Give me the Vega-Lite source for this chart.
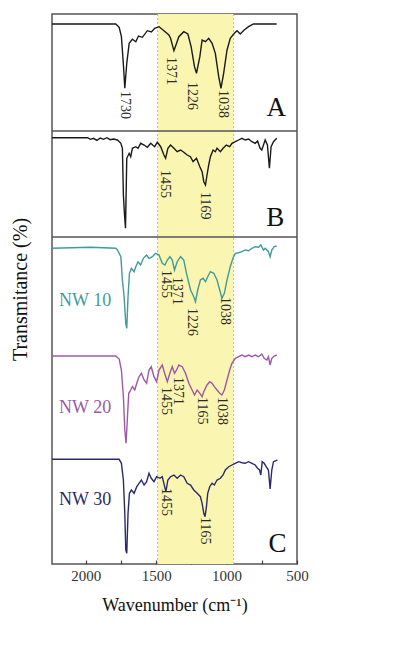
{
  "$schema": "https://vega.github.io/schema/vega-lite/v6.json",
  "width": 245,
  "height": 550,
  "autosize": "none",
  "padding": {"left": 52, "top": 14, "right": 103, "bottom": 91},
  "background": "white",
  "config": {
    "view": {"stroke": "#555555", "strokeWidth": 1.5},
    "font": "Liberation Serif",
    "text": {"font": "Liberation Serif"}
  },
  "datasets": {
    "spectra": [
      {"s": "A", "wn": 2240, "t": 540}, {"s": "A", "wn": 1787, "t": 540}, {"s": "A", "wn": 1763, "t": 536.7}, {"s": "A", "wn": 1747, "t": 527.3}, {"s": "A", "wn": 1732, "t": 497.3}, {"s": "A", "wn": 1723, "t": 475.7}, {"s": "A", "wn": 1709, "t": 500.7}, {"s": "A", "wn": 1692, "t": 520.7}, {"s": "A", "wn": 1669, "t": 524.7}, {"s": "A", "wn": 1645, "t": 522.3}, {"s": "A", "wn": 1626, "t": 528}, {"s": "A", "wn": 1598, "t": 526.7}, {"s": "A", "wn": 1563, "t": 533.3}, {"s": "A", "wn": 1534, "t": 532}, {"s": "A", "wn": 1511, "t": 535.7}, {"s": "A", "wn": 1480, "t": 537.3}, {"s": "A", "wn": 1445, "t": 533.3}, {"s": "A", "wn": 1410, "t": 529}, {"s": "A", "wn": 1398, "t": 525.7}, {"s": "A", "wn": 1374, "t": 513.3}, {"s": "A", "wn": 1339, "t": 527.3}, {"s": "A", "wn": 1304, "t": 532.3}, {"s": "A", "wn": 1275, "t": 530}, {"s": "A", "wn": 1252, "t": 517.3}, {"s": "A", "wn": 1228, "t": 497.3}, {"s": "A", "wn": 1214, "t": 490.7}, {"s": "A", "wn": 1190, "t": 507.3}, {"s": "A", "wn": 1174, "t": 524}, {"s": "A", "wn": 1150, "t": 522.3}, {"s": "A", "wn": 1127, "t": 525.7}, {"s": "A", "wn": 1103, "t": 520.7}, {"s": "A", "wn": 1080, "t": 510.7}, {"s": "A", "wn": 1056, "t": 487.3}, {"s": "A", "wn": 1040, "t": 475.7}, {"s": "A", "wn": 1021, "t": 490.7}, {"s": "A", "wn": 997, "t": 514}, {"s": "A", "wn": 974, "t": 525.7}, {"s": "A", "wn": 945, "t": 530.7}, {"s": "A", "wn": 926, "t": 533.3}, {"s": "A", "wn": 903, "t": 530}, {"s": "A", "wn": 875, "t": 534}, {"s": "A", "wn": 844, "t": 537.3}, {"s": "A", "wn": 809, "t": 540}, {"s": "A", "wn": 644, "t": 540},

      {"s": "B", "wn": 2240, "t": 426.3}, {"s": "B", "wn": 1987, "t": 426.3}, {"s": "B", "wn": 1968, "t": 424.7}, {"s": "B", "wn": 1945, "t": 425.7}, {"s": "B", "wn": 1921, "t": 423.7}, {"s": "B", "wn": 1897, "t": 426}, {"s": "B", "wn": 1874, "t": 424.7}, {"s": "B", "wn": 1850, "t": 426.3}, {"s": "B", "wn": 1827, "t": 424.3}, {"s": "B", "wn": 1803, "t": 425}, {"s": "B", "wn": 1775, "t": 424}, {"s": "B", "wn": 1751, "t": 420.7}, {"s": "B", "wn": 1740, "t": 415.7}, {"s": "B", "wn": 1733, "t": 369}, {"s": "B", "wn": 1725, "t": 349}, {"s": "B", "wn": 1718, "t": 335.7}, {"s": "B", "wn": 1709, "t": 405.7}, {"s": "B", "wn": 1692, "t": 410.7}, {"s": "B", "wn": 1681, "t": 407.3}, {"s": "B", "wn": 1669, "t": 415.7}, {"s": "B", "wn": 1645, "t": 417.3}, {"s": "B", "wn": 1629, "t": 415.7}, {"s": "B", "wn": 1610, "t": 420.7}, {"s": "B", "wn": 1586, "t": 419}, {"s": "B", "wn": 1563, "t": 416.7}, {"s": "B", "wn": 1539, "t": 420.7}, {"s": "B", "wn": 1511, "t": 417.3}, {"s": "B", "wn": 1492, "t": 421.7}, {"s": "B", "wn": 1468, "t": 417.3}, {"s": "B", "wn": 1445, "t": 409}, {"s": "B", "wn": 1433, "t": 405.7}, {"s": "B", "wn": 1417, "t": 415.7}, {"s": "B", "wn": 1398, "t": 419}, {"s": "B", "wn": 1374, "t": 415.7}, {"s": "B", "wn": 1351, "t": 412.3}, {"s": "B", "wn": 1327, "t": 414}, {"s": "B", "wn": 1304, "t": 411.7}, {"s": "B", "wn": 1280, "t": 409}, {"s": "B", "wn": 1257, "t": 407.3}, {"s": "B", "wn": 1238, "t": 402.3}, {"s": "B", "wn": 1214, "t": 405.7}, {"s": "B", "wn": 1190, "t": 397.3}, {"s": "B", "wn": 1174, "t": 392.3}, {"s": "B", "wn": 1162, "t": 382.3}, {"s": "B", "wn": 1150, "t": 379}, {"s": "B", "wn": 1139, "t": 389}, {"s": "B", "wn": 1127, "t": 399}, {"s": "B", "wn": 1115, "t": 407.3}, {"s": "B", "wn": 1096, "t": 414}, {"s": "B", "wn": 1080, "t": 412.3}, {"s": "B", "wn": 1068, "t": 415.7}, {"s": "B", "wn": 1044, "t": 412.3}, {"s": "B", "wn": 1025, "t": 415.7}, {"s": "B", "wn": 1002, "t": 419}, {"s": "B", "wn": 978, "t": 417.3}, {"s": "B", "wn": 962, "t": 420.7}, {"s": "B", "wn": 938, "t": 422.3}, {"s": "B", "wn": 915, "t": 424}, {"s": "B", "wn": 891, "t": 425.7}, {"s": "B", "wn": 868, "t": 424}, {"s": "B", "wn": 844, "t": 425}, {"s": "B", "wn": 820, "t": 422.3}, {"s": "B", "wn": 797, "t": 420.7}, {"s": "B", "wn": 780, "t": 423}, {"s": "B", "wn": 762, "t": 415.7}, {"s": "B", "wn": 750, "t": 414}, {"s": "B", "wn": 738, "t": 419}, {"s": "B", "wn": 726, "t": 424}, {"s": "B", "wn": 710, "t": 419}, {"s": "B", "wn": 696, "t": 395.7}, {"s": "B", "wn": 684, "t": 417.3}, {"s": "B", "wn": 667, "t": 422.3}, {"s": "B", "wn": 644, "t": 425.7},

      {"s": "NW 10", "wn": 2240, "t": 315.7}, {"s": "NW 10", "wn": 1964, "t": 316.7}, {"s": "NW 10", "wn": 1787, "t": 315.7}, {"s": "NW 10", "wn": 1775, "t": 314}, {"s": "NW 10", "wn": 1751, "t": 307.3}, {"s": "NW 10", "wn": 1740, "t": 284}, {"s": "NW 10", "wn": 1728, "t": 267.3}, {"s": "NW 10", "wn": 1716, "t": 240.7}, {"s": "NW 10", "wn": 1709, "t": 235.7}, {"s": "NW 10", "wn": 1700, "t": 267.3}, {"s": "NW 10", "wn": 1690, "t": 290.7}, {"s": "NW 10", "wn": 1676, "t": 295.7}, {"s": "NW 10", "wn": 1657, "t": 292.3}, {"s": "NW 10", "wn": 1645, "t": 297.3}, {"s": "NW 10", "wn": 1629, "t": 302.3}, {"s": "NW 10", "wn": 1610, "t": 299}, {"s": "NW 10", "wn": 1591, "t": 305.7}, {"s": "NW 10", "wn": 1568, "t": 309}, {"s": "NW 10", "wn": 1551, "t": 305.7}, {"s": "NW 10", "wn": 1527, "t": 307.3}, {"s": "NW 10", "wn": 1504, "t": 310.7}, {"s": "NW 10", "wn": 1480, "t": 309}, {"s": "NW 10", "wn": 1457, "t": 300.7}, {"s": "NW 10", "wn": 1438, "t": 299}, {"s": "NW 10", "wn": 1421, "t": 304}, {"s": "NW 10", "wn": 1403, "t": 307.3}, {"s": "NW 10", "wn": 1386, "t": 304}, {"s": "NW 10", "wn": 1370, "t": 294}, {"s": "NW 10", "wn": 1351, "t": 302.3}, {"s": "NW 10", "wn": 1327, "t": 307.3}, {"s": "NW 10", "wn": 1304, "t": 304}, {"s": "NW 10", "wn": 1285, "t": 290.7}, {"s": "NW 10", "wn": 1256, "t": 274}, {"s": "NW 10", "wn": 1233, "t": 267.3}, {"s": "NW 10", "wn": 1221, "t": 262.3}, {"s": "NW 10", "wn": 1205, "t": 274}, {"s": "NW 10", "wn": 1186, "t": 284}, {"s": "NW 10", "wn": 1167, "t": 285.7}, {"s": "NW 10", "wn": 1150, "t": 282.3}, {"s": "NW 10", "wn": 1134, "t": 287.3}, {"s": "NW 10", "wn": 1115, "t": 292.3}, {"s": "NW 10", "wn": 1091, "t": 290.7}, {"s": "NW 10", "wn": 1068, "t": 284}, {"s": "NW 10", "wn": 1049, "t": 274}, {"s": "NW 10", "wn": 1033, "t": 265.7}, {"s": "NW 10", "wn": 1016, "t": 270.7}, {"s": "NW 10", "wn": 997, "t": 284}, {"s": "NW 10", "wn": 974, "t": 297.3}, {"s": "NW 10", "wn": 955, "t": 305.7}, {"s": "NW 10", "wn": 938, "t": 310.7}, {"s": "NW 10", "wn": 915, "t": 311.3}, {"s": "NW 10", "wn": 891, "t": 312.3}, {"s": "NW 10", "wn": 868, "t": 314}, {"s": "NW 10", "wn": 844, "t": 313.3}, {"s": "NW 10", "wn": 820, "t": 315.7}, {"s": "NW 10", "wn": 797, "t": 317.3}, {"s": "NW 10", "wn": 773, "t": 316.7}, {"s": "NW 10", "wn": 757, "t": 319}, {"s": "NW 10", "wn": 738, "t": 314}, {"s": "NW 10", "wn": 726, "t": 315.7}, {"s": "NW 10", "wn": 703, "t": 312.3}, {"s": "NW 10", "wn": 691, "t": 307.3}, {"s": "NW 10", "wn": 679, "t": 314}, {"s": "NW 10", "wn": 662, "t": 317.3}, {"s": "NW 10", "wn": 644, "t": 318},

      {"s": "NW 20", "wn": 2240, "t": 208}, {"s": "NW 20", "wn": 1787, "t": 208}, {"s": "NW 20", "wn": 1763, "t": 205}, {"s": "NW 20", "wn": 1747, "t": 194}, {"s": "NW 20", "wn": 1733, "t": 167.3}, {"s": "NW 20", "wn": 1723, "t": 134}, {"s": "NW 20", "wn": 1714, "t": 120.7}, {"s": "NW 20", "wn": 1704, "t": 147.3}, {"s": "NW 20", "wn": 1695, "t": 170.7}, {"s": "NW 20", "wn": 1681, "t": 174}, {"s": "NW 20", "wn": 1669, "t": 177.3}, {"s": "NW 20", "wn": 1652, "t": 174}, {"s": "NW 20", "wn": 1638, "t": 180.7}, {"s": "NW 20", "wn": 1622, "t": 187.3}, {"s": "NW 20", "wn": 1605, "t": 190.7}, {"s": "NW 20", "wn": 1586, "t": 184}, {"s": "NW 20", "wn": 1568, "t": 180.7}, {"s": "NW 20", "wn": 1551, "t": 194}, {"s": "NW 20", "wn": 1535, "t": 197.3}, {"s": "NW 20", "wn": 1516, "t": 187.3}, {"s": "NW 20", "wn": 1497, "t": 182.3}, {"s": "NW 20", "wn": 1480, "t": 194}, {"s": "NW 20", "wn": 1457, "t": 199}, {"s": "NW 20", "wn": 1440, "t": 190.7}, {"s": "NW 20", "wn": 1421, "t": 182.3}, {"s": "NW 20", "wn": 1403, "t": 190.7}, {"s": "NW 20", "wn": 1386, "t": 197.3}, {"s": "NW 20", "wn": 1370, "t": 190.7}, {"s": "NW 20", "wn": 1355, "t": 194}, {"s": "NW 20", "wn": 1339, "t": 199}, {"s": "NW 20", "wn": 1315, "t": 197.3}, {"s": "NW 20", "wn": 1292, "t": 190.7}, {"s": "NW 20", "wn": 1268, "t": 180.7}, {"s": "NW 20", "wn": 1245, "t": 174}, {"s": "NW 20", "wn": 1228, "t": 169}, {"s": "NW 20", "wn": 1209, "t": 174}, {"s": "NW 20", "wn": 1190, "t": 170.7}, {"s": "NW 20", "wn": 1174, "t": 167.3}, {"s": "NW 20", "wn": 1162, "t": 172.3}, {"s": "NW 20", "wn": 1139, "t": 179}, {"s": "NW 20", "wn": 1120, "t": 182.3}, {"s": "NW 20", "wn": 1103, "t": 180.7}, {"s": "NW 20", "wn": 1087, "t": 177.3}, {"s": "NW 20", "wn": 1068, "t": 174}, {"s": "NW 20", "wn": 1049, "t": 170.7}, {"s": "NW 20", "wn": 1033, "t": 169}, {"s": "NW 20", "wn": 1016, "t": 174}, {"s": "NW 20", "wn": 997, "t": 184}, {"s": "NW 20", "wn": 978, "t": 194}, {"s": "NW 20", "wn": 962, "t": 200.7}, {"s": "NW 20", "wn": 938, "t": 205.7}, {"s": "NW 20", "wn": 915, "t": 207.3}, {"s": "NW 20", "wn": 891, "t": 209}, {"s": "NW 20", "wn": 868, "t": 207.3}, {"s": "NW 20", "wn": 844, "t": 209}, {"s": "NW 20", "wn": 820, "t": 207.3}, {"s": "NW 20", "wn": 797, "t": 209}, {"s": "NW 20", "wn": 773, "t": 207.3}, {"s": "NW 20", "wn": 750, "t": 210}, {"s": "NW 20", "wn": 733, "t": 205.7}, {"s": "NW 20", "wn": 714, "t": 204}, {"s": "NW 20", "wn": 703, "t": 207.3}, {"s": "NW 20", "wn": 691, "t": 199}, {"s": "NW 20", "wn": 679, "t": 205.7}, {"s": "NW 20", "wn": 662, "t": 208}, {"s": "NW 20", "wn": 644, "t": 209},

      {"s": "NW 30", "wn": 2240, "t": 104.7}, {"s": "NW 30", "wn": 1763, "t": 104.7}, {"s": "NW 30", "wn": 1747, "t": 100.7}, {"s": "NW 30", "wn": 1733, "t": 84}, {"s": "NW 30", "wn": 1723, "t": 50.7}, {"s": "NW 30", "wn": 1716, "t": 14}, {"s": "NW 30", "wn": 1709, "t": 10.7}, {"s": "NW 30", "wn": 1700, "t": 50.7}, {"s": "NW 30", "wn": 1690, "t": 70.7}, {"s": "NW 30", "wn": 1676, "t": 74}, {"s": "NW 30", "wn": 1657, "t": 70.7}, {"s": "NW 30", "wn": 1638, "t": 77.3}, {"s": "NW 30", "wn": 1622, "t": 80.7}, {"s": "NW 30", "wn": 1605, "t": 84}, {"s": "NW 30", "wn": 1586, "t": 79}, {"s": "NW 30", "wn": 1568, "t": 82.3}, {"s": "NW 30", "wn": 1551, "t": 90.7}, {"s": "NW 30", "wn": 1535, "t": 85.7}, {"s": "NW 30", "wn": 1516, "t": 82.3}, {"s": "NW 30", "wn": 1497, "t": 87.3}, {"s": "NW 30", "wn": 1473, "t": 85.7}, {"s": "NW 30", "wn": 1457, "t": 87.3}, {"s": "NW 30", "wn": 1440, "t": 77.3}, {"s": "NW 30", "wn": 1431, "t": 72.3}, {"s": "NW 30", "wn": 1417, "t": 84}, {"s": "NW 30", "wn": 1398, "t": 87.3}, {"s": "NW 30", "wn": 1374, "t": 89}, {"s": "NW 30", "wn": 1351, "t": 85.7}, {"s": "NW 30", "wn": 1327, "t": 89}, {"s": "NW 30", "wn": 1304, "t": 87.3}, {"s": "NW 30", "wn": 1280, "t": 80.7}, {"s": "NW 30", "wn": 1256, "t": 79}, {"s": "NW 30", "wn": 1233, "t": 74}, {"s": "NW 30", "wn": 1209, "t": 70.7}, {"s": "NW 30", "wn": 1186, "t": 67.3}, {"s": "NW 30", "wn": 1174, "t": 60.7}, {"s": "NW 30", "wn": 1162, "t": 50.7}, {"s": "NW 30", "wn": 1153, "t": 47.3}, {"s": "NW 30", "wn": 1143, "t": 57.3}, {"s": "NW 30", "wn": 1134, "t": 70.7}, {"s": "NW 30", "wn": 1120, "t": 77.3}, {"s": "NW 30", "wn": 1103, "t": 80.7}, {"s": "NW 30", "wn": 1087, "t": 79}, {"s": "NW 30", "wn": 1068, "t": 84}, {"s": "NW 30", "wn": 1044, "t": 85.7}, {"s": "NW 30", "wn": 1025, "t": 89}, {"s": "NW 30", "wn": 1009, "t": 94}, {"s": "NW 30", "wn": 985, "t": 97.3}, {"s": "NW 30", "wn": 962, "t": 99}, {"s": "NW 30", "wn": 938, "t": 100.7}, {"s": "NW 30", "wn": 915, "t": 102.3}, {"s": "NW 30", "wn": 891, "t": 101.3}, {"s": "NW 30", "wn": 868, "t": 100.7}, {"s": "NW 30", "wn": 844, "t": 102.3}, {"s": "NW 30", "wn": 820, "t": 100.7}, {"s": "NW 30", "wn": 797, "t": 99}, {"s": "NW 30", "wn": 780, "t": 95.7}, {"s": "NW 30", "wn": 766, "t": 94}, {"s": "NW 30", "wn": 757, "t": 89}, {"s": "NW 30", "wn": 747, "t": 102.3}, {"s": "NW 30", "wn": 733, "t": 100.7}, {"s": "NW 30", "wn": 719, "t": 97.3}, {"s": "NW 30", "wn": 703, "t": 94}, {"s": "NW 30", "wn": 691, "t": 75}, {"s": "NW 30", "wn": 679, "t": 94}, {"s": "NW 30", "wn": 667, "t": 102.3}, {"s": "NW 30", "wn": 648, "t": 103.3}, {"s": "NW 30", "wn": 639, "t": 104}
    ],
    "peaks": [
      {"label": "1730", "wn": 1720, "t": 473},
      {"label": "1371", "wn": 1393, "t": 507},
      {"label": "1226", "wn": 1245, "t": 482},
      {"label": "1038", "wn": 1025, "t": 474},
      {"label": "1455", "wn": 1440, "t": 394},
      {"label": "1169", "wn": 1155, "t": 372},
      {"label": "1371", "wn": 1355, "t": 287},
      {"label": "1455", "wn": 1433, "t": 294},
      {"label": "1226", "wn": 1245, "t": 256},
      {"label": "1038", "wn": 1009, "t": 267},
      {"label": "1371", "wn": 1346, "t": 187},
      {"label": "1455", "wn": 1433, "t": 177},
      {"label": "1165", "wn": 1174, "t": 167},
      {"label": "1038", "wn": 1033, "t": 167},
      {"label": "1455", "wn": 1433, "t": 76},
      {"label": "1165", "wn": 1150, "t": 47}
    ],
    "names": [
      {"s": "NW 10", "wn": 2190, "t": 263},
      {"s": "NW 20", "wn": 2190, "t": 156},
      {"s": "NW 30", "wn": 2190, "t": 64}
    ],
    "letters": [
      {"letter": "A", "wn": 648, "t": 456},
      {"letter": "B", "wn": 655, "t": 346},
      {"letter": "C", "wn": 638, "t": 20}
    ],
    "band": [{"from": 1490, "to": 950}],
    "edges": [{"wn": 1490}, {"wn": 950}],
    "seps": [{"t": 433}, {"t": 327}]
  },
  "encoding": {
    "x": {
      "field": "wn", "type": "quantitative",
      "scale": {"domain": [500, 2240], "reverse": true, "nice": false, "zero": false},
      "axis": {
        "values": [2000, 1750, 1500, 1250, 1000, 750, 500],
        "labelExpr": "datum.value % 500 === 0 ? format(datum.value, 'd') : ''",
        "domain": false, "grid": false,
        "tickSize": -4, "tickColor": "#444", "tickWidth": 1.2,
        "labelPadding": 8, "labelFont": "Liberation Serif", "labelFontSize": 15, "labelColor": "#333",
        "labelOverlap": false, "labelFlush": false,
        "title": "Wavenumber (cm⁻¹)", "titleFont": "Liberation Serif", "titleFontSize": 18,
        "titleFontWeight": "normal", "titleColor": "#111", "titlePadding": 13
      }
    },
    "y": {
      "field": "t", "type": "quantitative",
      "scale": {"domain": [0, 550], "nice": false, "zero": false},
      "axis": {
        "labels": false, "ticks": false, "domain": false, "grid": false,
        "title": "Transmitance (%)", "titleFont": "Liberation Serif", "titleFontSize": 20,
        "titleFontWeight": "normal", "titleColor": "#111", "titlePadding": 22
      }
    }
  },
  "layer": [
    {
      "data": {"name": "band"},
      "mark": {"type": "rect", "color": "#faf6b2"},
      "encoding": {"x": {"field": "from", "type": "quantitative"}, "x2": {"field": "to"}, "y": null}
    },
    {
      "data": {"name": "edges"},
      "mark": {"type": "rule", "color": "#b8b8b8", "strokeDash": [2, 2], "strokeWidth": 1},
      "encoding": {"y": null}
    },
    {
      "data": {"name": "seps"},
      "mark": {"type": "rule", "color": "#555555", "strokeWidth": 1.5},
      "encoding": {"x": null}
    },
    {
      "data": {"name": "spectra"},
      "mark": {"type": "line", "strokeWidth": 1.4},
      "encoding": {
        "color": {
          "field": "s", "type": "nominal", "legend": null,
          "scale": {"domain": ["A", "B", "NW 10", "NW 20", "NW 30"], "range": ["#1a1a1a", "#1a1a1a", "#3f9c9a", "#9e58a8", "#2b2a6c"]}
        }
      }
    },
    {
      "data": {"name": "peaks"},
      "mark": {"type": "text", "angle": 90, "align": "left", "baseline": "middle", "font": "Liberation Serif", "fontSize": 14, "color": "#2a2a2a"},
      "encoding": {"text": {"field": "label"}}
    },
    {
      "data": {"name": "names"},
      "mark": {"type": "text", "align": "left", "baseline": "middle", "font": "Liberation Serif", "fontSize": 18},
      "encoding": {
        "text": {"field": "s"},
        "color": {
          "field": "s", "type": "nominal", "legend": null,
          "scale": {"domain": ["A", "B", "NW 10", "NW 20", "NW 30"], "range": ["#1a1a1a", "#1a1a1a", "#3f9c9a", "#9e58a8", "#2b2a6c"]}
        }
      }
    },
    {
      "data": {"name": "letters"},
      "mark": {"type": "text", "align": "center", "baseline": "middle", "font": "Liberation Serif", "fontSize": 27, "color": "#111"},
      "encoding": {"text": {"field": "letter"}}
    }
  ]
}
